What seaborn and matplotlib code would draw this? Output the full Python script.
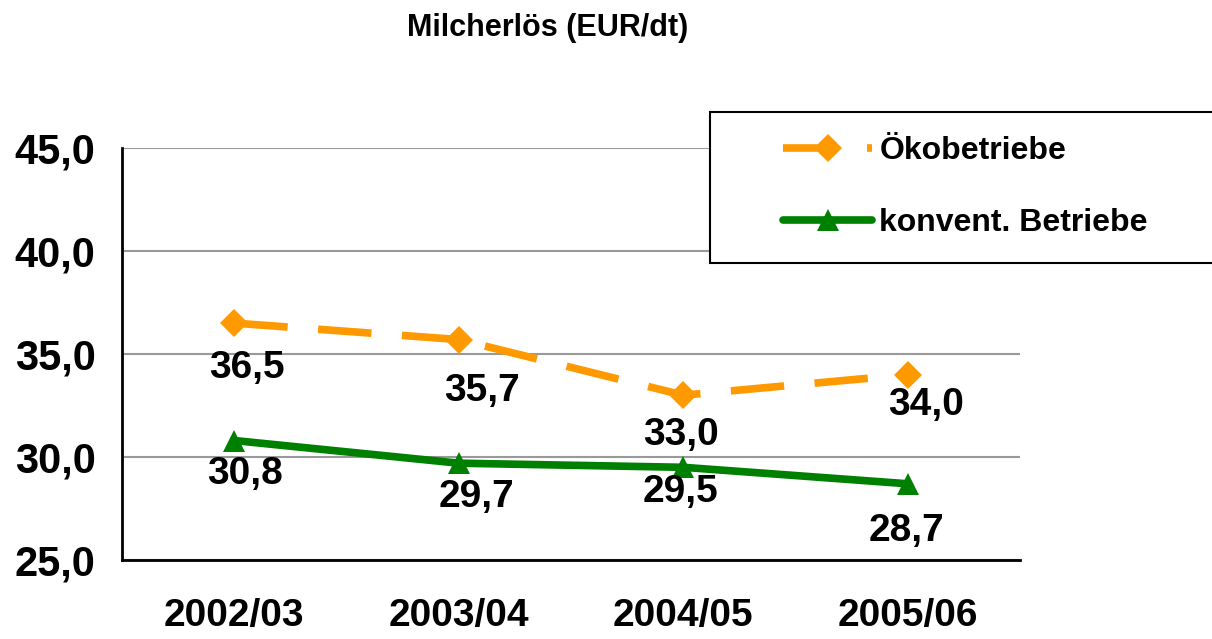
import matplotlib
matplotlib.use("Agg")
import matplotlib.pyplot as plt
import pandas as pd
import seaborn as sns
from matplotlib.patches import Rectangle
from matplotlib.ticker import FuncFormatter

years = ["2002/03", "2003/04", "2004/05", "2005/06"]
oeko = [36.5, 35.7, 33.0, 34.0]
konvent = [30.8, 29.7, 29.5, 28.7]
series_names = ["Ökobetriebe", "konvent. Betriebe"]
title = "Milcherlös (EUR/dt)"

# label offsets below markers (points)
oeko_offsets = [(9, -32), (17, -37), (-2, -29), (13, -22)]
konv_offsets = [(8, -24), (13, -24), (-2, -18), (-1, -34)]

sns.set_theme(style="white")
plt.rcParams["font.family"] = ["Liberation Sans", "DejaVu Sans"]
plt.rcParams["font.weight"] = "bold"
plt.rcParams["text.color"] = "black"

fig = plt.figure(figsize=(12.12, 6.39), dpi=100)
ax = fig.add_axes([0.1007, 0.1236, 0.741, 0.6448])

df = pd.DataFrame({"Jahr": years, "oeko": oeko, "konv": konvent})
x = list(range(len(years)))
df["x"] = x

sns.lineplot(data=df, x="x", y="oeko", ax=ax, color="#FF9900", lw=5.5,
             marker="D", markersize=14, markeredgewidth=0, label=series_names[0])
ax.lines[-1].set_dashes((7, 4))
sns.lineplot(data=df, x="x", y="konv", ax=ax, color="#008000", lw=5.5,
             marker="^", markersize=16, markeredgewidth=0, label=series_names[1])

for xi, v, off in zip(x, oeko, oeko_offsets):
    ax.annotate(f"{v:.1f}".replace(".", ","), (xi, v), xytext=off, textcoords="offset points",
                ha="center", va="center", fontsize=28, fontweight="bold", color="black")
for xi, v, off in zip(x, konvent, konv_offsets):
    ax.annotate(f"{v:.1f}".replace(".", ","), (xi, v), xytext=off, textcoords="offset points",
                ha="center", va="center", fontsize=28, fontweight="bold", color="black")

ax.set_xlim(-0.5, 3.5)
ax.set_ylim(25, 45)
ax.set_yticks([25, 30, 35, 40, 45])
ax.yaxis.set_major_formatter(FuncFormatter(lambda v, p: f"{v:.1f}".replace(".", ",")))
ax.set_xticks(x)
ax.set_xticklabels(years)
ax.tick_params(axis="both", labelsize=28, length=0, labelcolor="black")
ax.tick_params(axis="x", pad=27)
ax.tick_params(axis="y", pad=19, labelsize=30)
for lab in ax.get_xticklabels() + ax.get_yticklabels():
    lab.set_fontweight("bold")
ax.set_xlabel("")
ax.set_ylabel("")

ax.yaxis.grid(True, color="#999999", lw=1.5)
ax.set_axisbelow(True)
for s in ["top", "right"]:
    ax.spines[s].set_visible(False)
for s in ["left", "bottom"]:
    ax.spines[s].set_color("black")
    ax.spines[s].set_linewidth(2)

# legend box drawn separately (white, over gridlines), entries placed inside
ax.add_patch(Rectangle((710 / 1212, 1 - 263 / 639), 0.45, 151 / 639,
                       transform=fig.transFigure, facecolor="white",
                       edgecolor="black", lw=1.5, clip_on=False, zorder=4))
leg = ax.legend(loc="center left", bbox_to_anchor=(783 / 1212, 1 - 187 / 639),
                bbox_transform=fig.transFigure, fontsize=23,
                handlelength=2.8, handletextpad=0.22, labelspacing=1.3,
                borderpad=0, frameon=False, borderaxespad=0)
leg.set_zorder(5)
for t in leg.get_texts():
    t.set_fontweight("bold")
    t.set_color("black")

fig.text(0.452, 0.956, title, ha="center", va="center", fontsize=22, fontweight="bold")

fig.savefig("out.png", dpi=100)
